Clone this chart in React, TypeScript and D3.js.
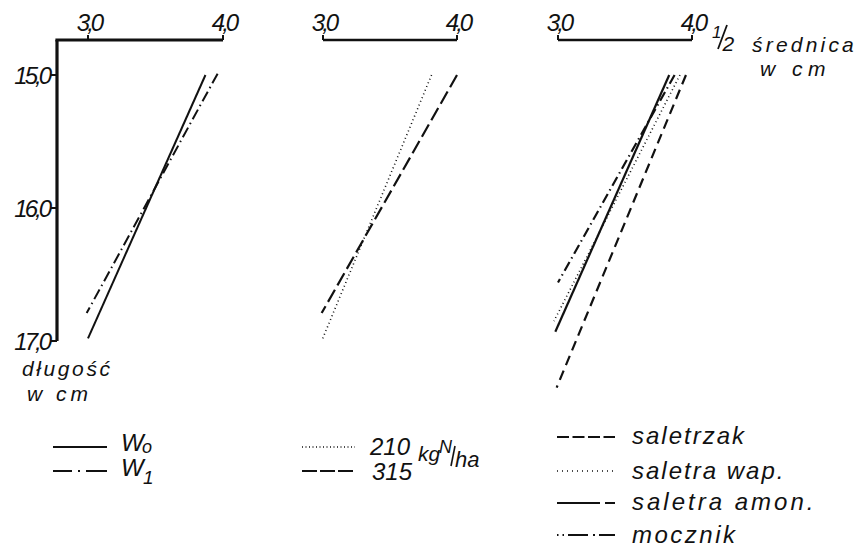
import React from "react";
import * as d3 from "d3";

// ---- data ----
const yTicks = [15, 16, 17];
const xTicks = [3, 4];
const tickFmt = (v: number) => v.toFixed(1).replace(".", ",");

type Pt = { d: number; l: number };
// panel 1
const w0: Pt[] = [{ d: 3.87, l: 15.0 }, { d: 3.0, l: 16.98 }];
const w1: Pt[] = [{ d: 3.96, l: 14.99 }, { d: 2.99, l: 16.79 }];
// panel 2
const n210: Pt[] = [{ d: 3.81, l: 15.0 }, { d: 2.99, l: 17.0 }];
const n315: Pt[] = [{ d: 4.0, l: 15.0 }, { d: 2.99, l: 16.79 }];
// panel 3
const saletrzak: Pt[] = [{ d: 3.955, l: 15.0 }, { d: 2.99, l: 17.35 }];
const saletraWap: Pt[] = [{ d: 3.91, l: 15.0 }, { d: 2.97, l: 16.85 }];
const saletraAmon: Pt[] = [{ d: 3.83, l: 15.0 }, { d: 2.98, l: 16.93 }];
const mocznik: Pt[] = [{ d: 3.87, l: 15.0 }, { d: 3.0, l: 16.56 }];

const FONT = "'Liberation Sans', Arial, sans-serif";

const y = d3.scaleLinear().domain([15, 17]).range([75, 341]);
const panelX = [
  d3.scaleLinear().domain([3, 4]).range([88, 223]),
  d3.scaleLinear().domain([3, 4]).range([323, 457]),
  d3.scaleLinear().domain([3, 4]).range([558, 692]),
];

const styles: Record<string, { dash: string; w: number }> = {
  solid: { dash: "none", w: 2 },
  dashdot: { dash: "11 4 1.5 4", w: 2 },
  dotted: { dash: "1 3", w: 1.6 },
  longdash: { dash: "14 5", w: 2.2 },
  dashed: { dash: "10 6", w: 2.2 },
  amon: { dash: "none", w: 2.2 },
  mocz: { dash: "10 4 1.5 4", w: 2.2 },
};

const panels: { x: number; series: { data: Pt[]; style: string }[] }[] = [
  { x: 0, series: [{ data: w0, style: "solid" }, { data: w1, style: "dashdot" }] },
  { x: 1, series: [{ data: n210, style: "dotted" }, { data: n315, style: "longdash" }] },
  {
    x: 2,
    series: [
      { data: saletrzak, style: "dashed" },
      { data: saletraWap, style: "dotted" },
      { data: saletraAmon, style: "amon" },
      { data: mocznik, style: "mocz" },
    ],
  },
];

const txt = {
  fontFamily: FONT,
  fontStyle: "italic" as const,
  fill: "#111",
};

export default function App() {
  return (
    <svg width={860} height={549} style={{ position: "absolute", left: 0, top: 0, background: "#fff" }}>
      <rect width={860} height={549} fill="#fff" />
      {/* panel 1 axes */}
      <line x1={57} y1={40} x2={57} y2={y(17)} stroke="#111" strokeWidth={3.2} />
      <line x1={55.4} y1={40} x2={panelX[0](4)} y2={40} stroke="#111" strokeWidth={3} />
      {yTicks.map((t) => (
        <g key={t}>
          <line x1={51} x2={57} y1={y(t)} y2={y(t)} stroke="#111" strokeWidth={2} />
          <text x={49} y={y(t) + 9} textAnchor="end" fontSize={24} letterSpacing={-3} style={txt}>
            {tickFmt(t)}
          </text>
        </g>
      ))}
      {/* top axes */}
      {panelX.map((sx, i) => (
        <g key={i}>
          {i > 0 && (
            <line x1={sx(3)} x2={sx(4)} y1={40} y2={40} stroke="#111" strokeWidth={2.5} />
          )}
          {xTicks.map((t) => (
            <g key={t}>
              <line x1={sx(t)} x2={sx(t)} y1={40} y2={35} stroke="#111" strokeWidth={2} />
              <text x={sx(t) + 1} y={31} textAnchor="middle" fontSize={24} letterSpacing={-3} style={txt}>
                {tickFmt(t)}
              </text>
            </g>
          ))}
        </g>
      ))}
      {/* series lines */}
      {panels.map((p, i) => {
        const sx = panelX[p.x];
        const line = d3
          .line<Pt>()
          .x((d) => sx(d.d))
          .y((d) => y(d.l));
        return (
          <g key={i}>
            {p.series.map((s, j) => {
              const st = styles[s.style];
              return (
                <path
                  key={j}
                  d={line(s.data) || ""}
                  fill="none"
                  stroke="#111"
                  strokeWidth={st.w}
                  strokeDasharray={st.dash}
                />
              );
            })}
          </g>
        );
      })}
      {/* axis titles */}
      <text x={22} y={376} fontSize={21} letterSpacing={2.6} style={txt}>długość</text>
      <text x={27} y={401} fontSize={21} letterSpacing={4} style={txt}>w cm</text>
      <text x={712} y={38} fontSize={17} style={txt}>
        <tspan>1</tspan>
        <tspan dx={1} dy={13} fontSize={21}>2</tspan>
      </text>
      <line x1={727} y1={25} x2={718} y2={49} stroke="#111" strokeWidth={1.8} />
      <text x={752} y={52} fontSize={21} letterSpacing={3.2} style={txt}>średnica</text>
      <text x={760} y={76} fontSize={21} letterSpacing={5.5} style={txt}>w cm</text>

      {/* legend panel 1 */}
      <line x1={53} x2={107} y1={447} y2={447} stroke="#111" strokeWidth={2} />
      <text x={121} y={451} fontSize={24} style={txt}>W</text>
      <text x={142} y={453} fontSize={18} style={txt}>o</text>
      <line x1={53} x2={107} y1={471} y2={471} stroke="#111" strokeWidth={2} strokeDasharray="19 6 2 6 30" />
      <text x={121} y={476} fontSize={24} style={txt}>W</text>
      <text x={143} y={484} fontSize={19} style={txt}>1</text>

      {/* legend panel 2 */}
      <line x1={302} x2={355} y1={447} y2={447} stroke="#111" strokeWidth={1.4} strokeDasharray="1 2.5" />
      <text x={370} y={455} fontSize={24} style={txt}>210</text>
      <line x1={302} x2={355} y1={471} y2={471} stroke="#111" strokeWidth={2} strokeDasharray="15 3" />
      <text x={372} y={480} fontSize={24} style={txt}>315</text>
      <text x={418} y={461} fontSize={21} style={txt}>kg</text>
      <text x={439} y={453} fontSize={18} style={txt}>N</text>
      <line x1={455} y1={446} x2={451} y2={466} stroke="#111" strokeWidth={1.6} />
      <text x={455} y={467} fontSize={22} style={txt}>ha</text>

      {/* legend panel 3 */}
      <line x1={557} x2={615} y1={437} y2={437} stroke="#111" strokeWidth={2} strokeDasharray="12 3.5" />
      <text x={632} y={444} fontSize={24} letterSpacing={2} style={txt}>saletrzak</text>
      <line x1={557} x2={615} y1={471} y2={471} stroke="#111" strokeWidth={1.3} strokeDasharray="1 4" />
      <text x={632} y={479} fontSize={24} letterSpacing={2} style={txt}>saletra  wap.</text>
      <line x1={557} x2={615} y1={503} y2={503} stroke="#111" strokeWidth={2} strokeDasharray="43 5 10" />
      <text x={632} y={510} fontSize={24} letterSpacing={3} style={txt}>saletra amon.</text>
      <line x1={557} x2={615} y1={535} y2={535} stroke="#111" strokeWidth={2} strokeDasharray="1.5 4 1.5 4 20 5 2 4 20" />
      <text x={632} y={543} fontSize={24} letterSpacing={2.5} style={txt}>mocznik</text>
    </svg>
  );
}
